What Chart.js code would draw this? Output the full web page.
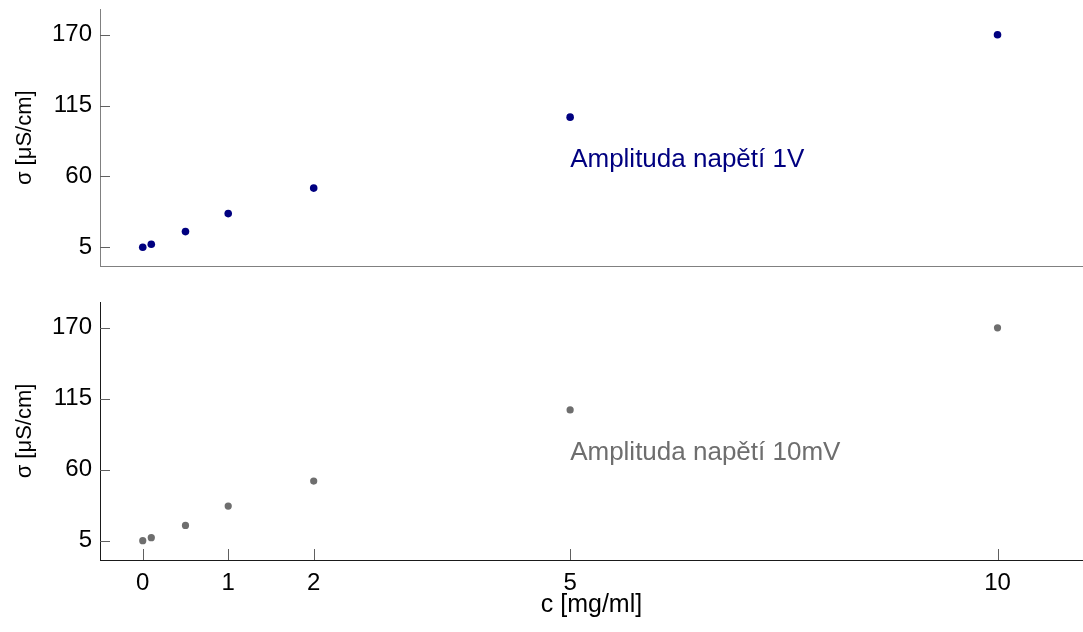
<!DOCTYPE html>
<html>
<head>
<meta charset="utf-8">
<script src="https://cdn.jsdelivr.net/npm/chart.js@4.4.1/dist/chart.umd.min.js"></script>
<style>
  html, body { margin: 0; padding: 0; background: #ffffff; }
  #wrap { position: relative; width: 1083px; height: 632px; }
  .panel { position: absolute; left: 0; width: 1083px; }
  #topPanel { top: 0; height: 270px; }
  #bottomPanel { top: 290px; height: 342px; }
</style>
</head>
<body>
<div id="wrap">
  <div class="panel" id="topPanel"><canvas id="cTop"></canvas></div>
  <div class="panel" id="bottomPanel"><canvas id="cBottom"></canvas></div>
</div>
<script>
// Concentration of the solution, mg/ml
const concentration = [0, 0.1, 0.5, 1, 2, 5, 10];
// Conductivity measured at 1 V excitation amplitude, µS/cm
const sigma1V = [5.0, 7.3, 17.1, 31.1, 50.9, 106.0, 170.0];
// Conductivity measured at 10 mV excitation amplitude, µS/cm
const sigma10mV = [5.0, 7.3, 16.8, 31.8, 51.2, 106.3, 170.0];

const xTickValues = [0, 1, 2, 5, 10];
const yTickValues = [5, 60, 115, 170];

const labelTop = 'Amplituda napětí 1V';
const labelBottom = 'Amplituda napětí 10mV';
const yTitle = 'σ [μS/cm]';
const xTitle = 'c [mg/ml]';

const FONT = 'Liberation Sans, Arial, Helvetica, sans-serif';

function points(xs, ys) {
  return xs.map((x, i) => ({ x: x, y: ys[i] }));
}

// Drop the extra room Chart.js reserves for overhanging edge labels
function noEdgePadding(s) {
  s.paddingTop = 0;
  s.paddingBottom = 0;
  s.paddingLeft = 0;
  s.paddingRight = 0;
}

// Short tick marks pointing into the plot area, plus the in-plot caption
const innerTicks = {
  id: 'innerTicks',
  afterDatasetsDraw(chart, args, opts) {
    const ctx = chart.ctx;
    const area = chart.chartArea;
    const ys = chart.scales.y;
    const xs = chart.scales.x;
    ctx.save();
    ctx.lineWidth = 1;
    ctx.strokeStyle = opts.tickColor;
    ctx.beginPath();
    yTickValues.forEach(v => {
      const py = Math.round(ys.getPixelForValue(v)) + 0.5;
      ctx.moveTo(area.left, py);
      ctx.lineTo(area.left + 10, py);
    });
    if (opts.xTicks) {
      xTickValues.forEach(v => {
        const px = Math.round(xs.getPixelForValue(v)) + 0.5;
        ctx.moveTo(px, area.bottom);
        ctx.lineTo(px, area.bottom - 11);
      });
    }
    ctx.stroke();
    if (opts.caption) {
      ctx.fillStyle = opts.captionColor;
      ctx.font = '26px ' + FONT;
      ctx.textAlign = 'left';
      ctx.textBaseline = 'middle';
      ctx.fillText(opts.caption, xs.getPixelForValue(opts.captionAt[0]), ys.getPixelForValue(opts.captionAt[1]));
    }
    ctx.restore();
  }
};

function makeChart(canvasId, values, cfg) {
  return new Chart(document.getElementById(canvasId), {
    type: 'scatter',
    data: {
      datasets: [{
        data: points(concentration, values),
        backgroundColor: cfg.color,
        borderColor: cfg.color,
        pointRadius: cfg.radius,
        pointHoverRadius: cfg.radius,
        borderWidth: 0
      }]
    },
    options: {
      responsive: true,
      maintainAspectRatio: false,
      animation: false,
      events: [],
      layout: { padding: cfg.padding, autoPadding: false },
      plugins: {
        legend: { display: false },
        tooltip: { enabled: false },
        innerTicks: {
          tickColor: cfg.tickColor,
          xTicks: cfg.showX,
          caption: cfg.caption,
          captionColor: cfg.color,
          captionAt: [5, cfg.captionY]
        }
      },
      scales: {
        x: {
          type: 'linear',
          min: -0.5,
          max: 11,
          afterBuildTicks: s => { s.ticks = xTickValues.map(v => ({ value: v })); },
          afterFit: s => { s.height = cfg.xHeight; noEdgePadding(s); },
          grid: { display: false, drawTicks: false },
          border: { display: true, color: cfg.axisColor, width: 1 },
          ticks: {
            display: cfg.showX,
            padding: 9,
            color: '#000000',
            font: { family: FONT, size: 24 },
            maxRotation: 0,
            callback: v => String(v)
          },
          title: {
            display: cfg.showX,
            text: xTitle,
            color: '#000000',
            font: { family: FONT, size: 25 },
            padding: { top: 0, bottom: 12 }
          }
        },
        y: {
          type: 'linear',
          min: -10,
          max: 190,
          afterBuildTicks: s => { s.ticks = yTickValues.map(v => ({ value: v })); },
          afterFit: s => { s.width = 100; noEdgePadding(s); },
          grid: { display: false, drawTicks: false },
          border: { display: true, color: cfg.axisColor, width: 1 },
          ticks: {
            padding: 8,
            color: '#000000',
            font: { family: FONT, size: 24 },
            callback: v => String(v)
          },
          title: {
            display: true,
            text: yTitle,
            color: '#000000',
            font: { family: FONT, size: 22 },
            padding: { top: 12, bottom: 0 }
          }
        }
      }
    },
    plugins: [innerTicks]
  });
}

makeChart('cTop', sigma1V, {
  color: '#000080',
  radius: 3.8,
  axisColor: '#808080',
  tickColor: '#606060',
  showX: false,
  xHeight: 0,
  caption: labelTop,
  captionY: 72.5,
  padding: { top: 9, bottom: 3.5, left: 0, right: 0 }
});

makeChart('cBottom', sigma10mV, {
  color: '#6e6e6e',
  radius: 3.6,
  axisColor: '#1a1a1a',
  tickColor: '#606060',
  showX: true,
  xHeight: 72,
  caption: labelBottom,
  captionY: 73,
  padding: { top: 12, bottom: 0, left: 0, right: 0 }
});
</script>
</body>
</html>
